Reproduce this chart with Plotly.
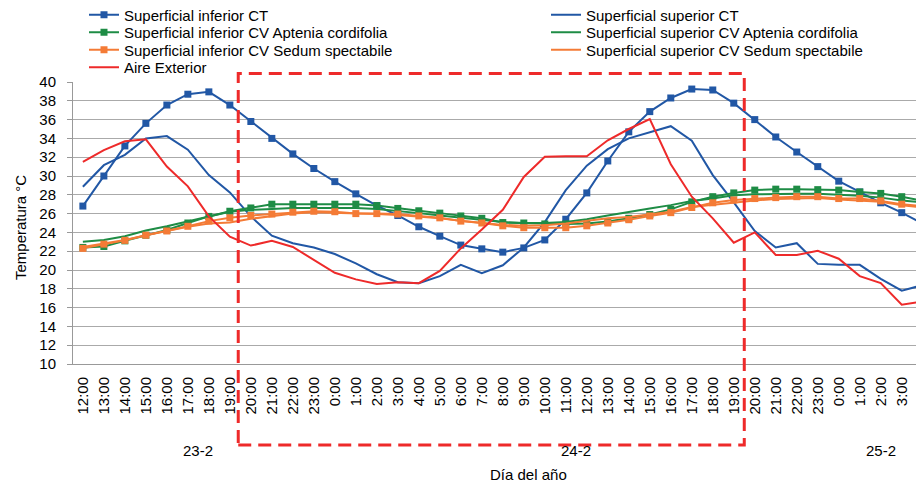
import plotly.graph_objects as go

# ---------------- data ----------------
hours = ["12:00", "13:00", "14:00", "15:00", "16:00", "17:00", "18:00", "19:00",
         "20:00", "21:00", "22:00", "23:00",
         "0:00", "1:00", "2:00", "3:00", "4:00", "5:00", "6:00", "7:00", "8:00",
         "9:00", "10:00", "11:00", "12:00", "13:00", "14:00", "15:00", "16:00",
         "17:00", "18:00", "19:00", "20:00", "21:00", "22:00", "23:00",
         "0:00", "1:00", "2:00", "3:00", "4:00"]
day_of_point = ["23-2"] * 12 + ["24-2"] * 24 + ["25-2"] * 5
days = ["23-2", "24-2", "25-2"]

inf_ct = [26.8, 30.0, 33.2, 35.6, 37.55, 38.7, 38.95, 37.55, 35.8, 34.0, 32.35, 30.8,
          29.4, 28.1, 26.85, 25.8, 24.6, 23.6, 22.65, 22.25, 21.9, 22.35, 23.2, 25.4,
          28.2, 31.6, 34.7, 36.85, 38.3, 39.25, 39.15, 37.75, 36.0, 34.15, 32.55, 31.0,
          29.45, 28.3, 27.15, 26.1, 24.95]
sup_ct = [28.85, 31.15, 32.25, 34.0, 34.25, 32.8, 30.1, 28.25, 25.7, 23.65, 22.85, 22.4,
          21.7, 20.7, 19.55, 18.7, 18.6, 19.35, 20.55, 19.65, 20.5, 22.4, 25.1, 28.5,
          31.1, 32.85, 34.0, 34.65, 35.3, 33.75, 30.1, 27.2, 24.15, 22.4, 22.85, 20.65,
          20.55, 20.55, 19.05, 17.8, 18.4]
inf_apt = [22.4, 22.5, 23.1, 23.7, 24.25, 25.0, 25.7, 26.25, 26.6, 27.0, 27.0, 27.0,
           27.0, 27.0, 26.85, 26.55, 26.3, 26.05, 25.75, 25.5, 25.05, 25.0, 24.9, 24.9,
           24.95, 25.15, 25.5, 25.9, 26.45, 27.25, 27.8, 28.2, 28.5, 28.6, 28.6, 28.55,
           28.5, 28.3, 28.15, 27.8, 27.35]
sup_apt = [23.0, 23.2, 23.6, 24.2, 24.65, 25.2, 25.7, 26.2, 26.4, 26.5, 26.6, 26.6,
           26.6, 26.6, 26.5, 26.3, 26.05, 25.8, 25.55, 25.35, 25.1, 25.0, 25.0, 25.1,
           25.4, 25.8, 26.2, 26.55, 26.9, 27.35, 27.6, 27.95, 28.05, 28.1, 28.1, 28.1,
           28.0, 27.9, 27.7, 27.4, 27.2]
inf_sed = [22.3, 22.75, 23.15, 23.7, 24.15, 24.65, 25.2, 25.55, 25.8, 25.95, 26.15, 26.25,
           26.2, 26.0, 26.0, 25.95, 25.75, 25.55, 25.2, 25.0, 24.7, 24.5, 24.5, 24.5,
           24.7, 25.0, 25.35, 25.75, 26.1, 26.65, 27.15, 27.45, 27.6, 27.7, 27.8, 27.8,
           27.6, 27.6, 27.35, 27.0, 26.8]
sup_sed = [22.45, 22.8, 23.2, 23.7, 24.15, 24.6, 24.95, 25.05, 25.45, 25.7, 26.0, 26.15,
           26.1, 26.0, 25.95, 25.85, 25.7, 25.5, 25.25, 25.0, 24.8, 24.7, 24.75, 24.95,
           25.25, 25.5, 25.65, 25.9, 26.2, 26.7, 26.95, 27.15, 27.4, 27.55, 27.6, 27.65,
           27.5, 27.4, 27.25, 26.9, 26.65]
aire = [31.5, 32.75, 33.7, 33.9, 31.0, 28.9, 25.7, 23.55, 22.6, 23.1, 22.45, 21.1,
        19.7, 19.0, 18.5, 18.7, 18.6, 19.9, 22.3, 24.3, 26.4, 29.9, 32.05, 32.1,
        32.1, 33.8, 35.0, 36.05, 31.25, 27.8, 25.5, 22.9, 24.0, 21.6, 21.6, 22.05,
        21.2, 19.35, 18.6, 16.3, 16.65]

# highlighted period (category positions)
highlight_start = 7.4
highlight_end = 31.5

# ---------------- style ----------------
BLUE = "#2157A5"
GREEN = "#1E8C45"
ORANGE = "#F47B36"
RED = "#EE2A2A"
FONT = "Liberation Sans, Arial, sans-serif"

# the page body adds an 8px margin; figure is sized/positioned to compensate
OFF = 8
W, H = 924 - OFF, 485 - OFF
ML, MR, MT = 73 - OFF, 0, 82 - OFF
PLOT_BOTTOM = 364 - OFF
MB = H - PLOT_BOTTOM
PW = W - ML - MR
PH = PLOT_BOTTOM - MT


def py(win_y):
    """window pixel y -> paper coordinate"""
    return (PLOT_BOTTOM - (win_y - OFF)) / PH


def px(win_x):
    """window pixel x -> paper coordinate"""
    return ((win_x - OFF) - ML) / PW


x = list(range(len(hours)))

series = [
    ("Superficial inferior CT", inf_ct, BLUE, True, 0, 0),
    ("Superficial superior CT", sup_ct, BLUE, False, 1, 0),
    ("Superficial inferior CV Aptenia cordifolia", inf_apt, GREEN, True, 0, 1),
    ("Superficial superior CV Aptenia cordifolia", sup_apt, GREEN, False, 1, 1),
    ("Superficial inferior CV Sedum spectabile", inf_sed, ORANGE, True, 0, 2),
    ("Superficial superior CV Sedum spectabile", sup_sed, ORANGE, False, 1, 2),
    ("Aire Exterior", aire, RED, False, 0, 3),
]

legend_cols_px = [84, 546]            # window px (legend box left)
legend_rows_px = [15, 32.5, 50, 67.5]  # window px (row centre)

fig = go.Figure()
layout_legends = {}
for k, (name, vals, color, markers, col, row) in enumerate(series):
    lname = "legend" if k == 0 else f"legend{k + 1}"
    fig.add_trace(go.Scatter(
        x=x, y=vals, name=name,
        mode="lines+markers" if markers else "lines",
        line=dict(color=color, width=2),
        marker=dict(symbol="square", size=7, color=color),
        legend=lname, showlegend=True,
        hoverinfo="skip",
    ))
    layout_legends[lname] = dict(
        x=(legend_cols_px[col] - OFF) / W, xref="container", xanchor="left",
        y=1 - (legend_rows_px[row] - OFF) / H, yref="container", yanchor="middle",
        bgcolor="rgba(0,0,0,0)", borderwidth=0,
        font=dict(family=FONT, size=15, color="#000"),
        itemwidth=30, visible=True,
    )

# day group labels
annotations = []
for d in days:
    idx = [i for i, dd in enumerate(day_of_point) if dd == d]
    annotations.append(dict(
        x=(idx[0] + idx[-1]) / 2, xref="x",
        y=py(450), yref="paper",
        text=d, showarrow=False, yanchor="middle",
        font=dict(family=FONT, size=15, color="#000"),
    ))
annotations.append(dict(
    x=px(528), xref="paper", y=py(474), yref="paper",
    text="Día del año", showarrow=False, yanchor="middle",
    font=dict(family=FONT, size=15, color="#000"),
))
annotations.append(dict(
    x=px(20), xref="paper", y=py(228), yref="paper",
    text="Temperatura °C", textangle=-90, showarrow=False,
    xanchor="center", yanchor="middle",
    font=dict(family=FONT, size=15, color="#000"),
))

fig.update_layout(
    width=W, height=H, showlegend=True,
    margin=dict(l=ML, r=MR, t=MT, b=MB, pad=0, autoexpand=False),
    paper_bgcolor="white", plot_bgcolor="white",
    font=dict(family=FONT, size=15, color="#000"),
    annotations=annotations,
    shapes=[dict(
        type="rect", xref="x", yref="paper",
        x0=highlight_start, x1=highlight_end,
        y0=py(445), y1=py(73.5),
        line=dict(color=RED, width=3, dash="13px,7px"),
        fillcolor="rgba(0,0,0,0)", layer="above",
    )],
    **layout_legends,
)

fig.update_xaxes(
    range=[-0.47, 40.06], automargin=False,
    tickmode="array", tickvals=x, ticktext=hours,
    tickangle=-90, ticks="", ticklabelstandoff=6,
    ticklabeloverflow="allow",
    tickfont=dict(family=FONT, size=15, color="#000"),
    showgrid=False, zeroline=False,
    showline=True, linecolor="#999", linewidth=1,
)
fig.update_yaxes(
    range=[10, 40], dtick=2, tick0=10, automargin=False,
    showgrid=True, gridcolor="#AAAAAA", gridwidth=1,
    zeroline=False, showline=True, linecolor="#999", linewidth=1,
    ticks="outside", ticklen=5, tickcolor="#999", ticklabelstandoff=8,
    tickfont=dict(family=FONT, size=15, color="#000"),
)

fig.write_html("out.html")
